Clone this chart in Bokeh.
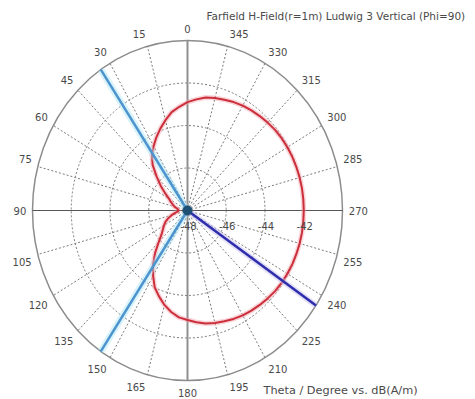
import numpy as np
from bokeh.plotting import figure
from bokeh.embed import file_html
from bokeh.resources import INLINE
from bokeh.core.properties import value

# ---------------- data ----------------
theta_deg = list(range(0, 360, 5))
h_field_db = [
    -42.90, -43.10, -43.30, -43.60, -43.90, -44.20, -44.50, -44.80, -45.20, -45.75,
    -46.20, -46.60, -46.90, -47.05, -47.20, -47.30, -47.45, -47.50, -47.55, -47.50,
    -47.35, -47.15, -46.95, -46.75, -46.60, -46.45, -46.25, -45.90, -45.40, -44.90,
    -44.45, -44.00, -43.70, -43.40, -43.15, -42.95, -42.85, -42.72, -42.60, -42.52,
    -42.45, -42.37, -42.30, -42.25, -42.20, -42.15, -42.10, -42.07, -42.05, -42.03,
    -42.02, -42.01, -42.00, -42.00, -42.00, -42.00, -42.00, -42.01, -42.02, -42.03,
    -42.05, -42.07, -42.10, -42.15, -42.20, -42.25, -42.30, -42.37, -42.45, -42.52,
    -42.60, -42.75,
]
main_lobe_deg = [236.0]
beam_3db_deg = [34.0, 146.0]
r_min_db, r_max_db = -48.0, -40.0
ring_db = [-46.0, -44.0, -42.0]
ring_label_db = [-48.0, -46.0, -44.0, -42.0]
ring_labels = ["-48", "-46", "-44", "-42"]
spoke_deg = list(range(0, 360, 15))
angle_labels = [str(a) for a in spoke_deg]
title_text = "Farfield H-Field(r=1m) Ludwig 3 Vertical (Phi=90)"
caption_text = "Theta / Degree vs. dB(A/m)"

# ---------------- layout ----------------
W, H = 475, 399
cx, cy = 187.0, 210.0          # pole position in figure pixels (from top-left)
Rx, Ry = 155.0, 170.0          # outer ring radii in pixels
span = r_max_db - r_min_db
sx, sy = Rx / span, Ry / span  # pixels per dB

p = figure(width=W, height=H, output_backend="svg", toolbar_location=None,
           x_range=(-cx / sx, (W - cx) / sx), y_range=(-(H - cy) / sy, cy / sy),
           min_border=0, background_fill_color="white", border_fill_color="white")
p.axis.visible = False
p.grid.visible = False
p.outline_line_color = None


def pol(db, deg):
    r = np.clip(np.asarray(db, dtype=float) - r_min_db, 0, None)
    t = np.radians(np.asarray(deg, dtype=float))
    return -r * np.sin(t), r * np.cos(t)


def px2data(px, py):
    return (px - cx) / sx, (cy - py) / sy


FONT = value("DejaVu Sans")
GRID = "#7a7a7a"
TXT = "#4a4a4a"

# rings
for rd in ring_db:
    r = rd - r_min_db
    p.ellipse(x=0, y=0, width=2 * r, height=2 * r, fill_color=None,
              line_color=GRID, line_width=1, line_dash="2 2")
p.ellipse(x=0, y=0, width=2 * span, height=2 * span, fill_color=None,
          line_color="#8c8c8c", line_width=1.5)

# spokes
sp = [a for a in spoke_deg if a % 90 != 0]
ex, ey = pol([r_max_db] * len(sp), sp)
p.segment(x0=0, y0=0, x1=ex, y1=ey, line_color=GRID, line_width=1, line_dash="2 2")
# main axes
p.segment(x0=[-span], y0=[0], x1=[span], y1=[0], line_color="#555555", line_width=1.2)
p.segment(x0=[0], y0=[-span], x1=[0], y1=[span], line_color="#8f8f8f", line_width=2)

# red pattern
xs, ys = pol(h_field_db + h_field_db[:1], theta_deg + theta_deg[:1])
p.line(xs, ys, line_color="#f2a0a8", line_width=5, line_alpha=0.45)
p.line(xs, ys, line_color="#cc2f3c", line_width=2)

# 3 dB beam width lines
for a in beam_3db_deg:
    bx, by = pol([r_min_db, r_max_db], [a, a])
    p.line(bx, by, line_color="#a8e4f5", line_width=7, line_alpha=0.45)
    p.line(bx, by, line_color="#4d94cf", line_width=2.5)

# main lobe direction
for a in main_lobe_deg:
    mx, my = pol([r_min_db, r_max_db], [a, a])
    p.line(mx, my, line_color="#c8c0f0", line_width=6, line_alpha=0.5)
    p.line(mx, my, line_color="#2e2eac", line_width=2.5)

p.scatter(x=[0], y=[0], size=9, fill_color="#1d4f74", line_color="#1d4f74")

# angle labels
lx, ly = [], []
for a, lab in zip(spoke_deg, angle_labels):
    t = np.radians(a)
    ux, uy = -np.sin(t), np.cos(t)
    hw = 3.3 * len(lab)
    hh = 6.0
    sgx = 0 if abs(ux) < 1e-6 else np.sign(ux)
    sgy = 0 if abs(uy) < 1e-6 else np.sign(uy)
    pxx = cx + Rx * ux + 6 * ux + hw * sgx
    pyy = cy - Ry * uy - 6 * uy - hh * sgy
    dx, dy = px2data(pxx, pyy)
    lx.append(dx)
    ly.append(dy)
p.text(x=lx, y=ly, text=angle_labels, text_font=FONT, text_font_size="10px",
       text_color=TXT, text_align="center", text_baseline="middle")

# radial labels
rx_ = [d - r_min_db + 1 / sx for d in ring_label_db]
ry_ = [-15 / sy] * len(ring_label_db)
p.text(x=rx_, y=ry_, text=ring_labels, text_font=FONT, text_font_size="10px",
       text_color=TXT, text_align="center", text_baseline="middle")

# title & caption
tx, ty = px2data(206, 9)
p.text(x=[tx], y=[ty], text=[title_text], text_font=FONT, text_font_size="10.5px",
       text_color=TXT, text_align="left", text_baseline="top")
qx, qy = px2data(263, 390)
p.text(x=[qx], y=[qy], text=[caption_text], text_font=FONT, text_font_size="11.3px",
       text_color=TXT, text_align="left", text_baseline="middle")

open("out.html", "w").write(file_html(p, INLINE))
